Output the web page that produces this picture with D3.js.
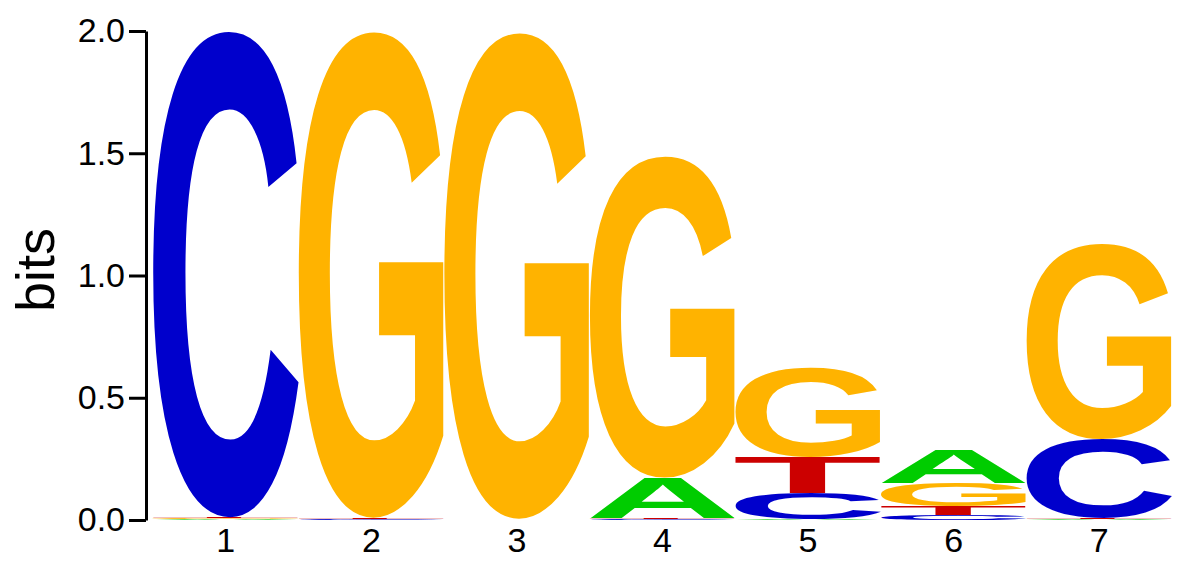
<!DOCTYPE html>
<html>
<head>
<meta charset="utf-8">
<script src="https://cdn.jsdelivr.net/npm/d3@7/dist/d3.min.js"></script>
<style>
    html, body { margin: 0; padding: 0; background: #fff; }
    svg { display: block; }
</style>
</head>
<body>
<svg id="chart" width="1194" height="565"></svg>
<script>
const positions = [1, 2, 3, 4, 5, 6, 7];
const bitsA = [0.003, 0.001, 0.001, 0.165, 0.004, 0.137, 0.004];
const bitsC = [1.990, 0.004, 0.002, 0.004, 0.106, 0.022, 0.323];
const bitsG = [0.004, 1.990, 1.990, 1.316, 0.368, 0.094, 0.800];
const bitsT = [0.004, 0.004, 0.002, 0.004, 0.147, 0.034, 0.004];
const yTicks = [0, 0.5, 1, 1.5, 2];

const letterColors = { A: '#00cc00', C: '#0000cc', G: '#ffb300', T: '#cc0000' };
const letterFont = "bold 200px 'Liberation Sans', Arial, sans-serif";

const svg = d3.select('#chart');

const x = d3.scaleBand()
    .domain(positions)
    .range([153, 1172])
    .paddingInner(0)
    .paddingOuter(0);

const y = d3.scaleLinear()
    .domain([0, 2])
    .range([520, 31]);

// tight glyph boxes, so each letter can be stretched to fill its slot
const ctx = document.createElement('canvas').getContext('2d');
ctx.font = letterFont;
const glyphBox = {};
Object.keys(letterColors).forEach(function (l) {
    const m = ctx.measureText(l);
    glyphBox[l] = {
        left: m.actualBoundingBoxLeft,
        w: m.actualBoundingBoxLeft + m.actualBoundingBoxRight,
        ascent: m.actualBoundingBoxAscent,
        h: m.actualBoundingBoxAscent + m.actualBoundingBoxDescent
    };
});

function stackColumn(i) {
    const col = [
        { letter: 'A', bits: bitsA[i] },
        { letter: 'C', bits: bitsC[i] },
        { letter: 'G', bits: bitsG[i] },
        { letter: 'T', bits: bitsT[i] }
    ].sort(function (a, b) { return a.bits - b.bits; });

    let base = 0;
    col.forEach(function (d) {
        d.y0 = base;
        d.y1 = base + d.bits;
        d.pos = positions[i];
        base = d.y1;
    });
    return col;
}

const letters = positions.map(function (p, i) { return stackColumn(i); }).flat();

const logo = svg.append('g').attr('class', 'logo');

logo.selectAll('text')
    .data(letters)
    .join('text')
    .attr('fill', function (d) { return letterColors[d.letter]; })
    .style('font', letterFont)
    .attr('x', function (d) { return glyphBox[d.letter].left; })
    .attr('y', function (d) { return glyphBox[d.letter].ascent; })
    .attr('transform', function (d) {
        const b = glyphBox[d.letter],
            w = x.bandwidth(),
            h = y(d.y0) - y(d.y1);
        return 'translate(' + x(d.pos) + ',' + y(d.y1) + ') scale(' + (w / b.w) + ',' + (h / b.h) + ')';
    })
    .text(function (d) { return d.letter; });

// y axis
const yAxis = svg.append('g')
    .attr('transform', 'translate(146,0)')
    .call(d3.axisLeft(y)
        .tickValues(yTicks)
        .tickFormat(d3.format('.1f'))
        .tickSize(17)
        .tickSizeOuter(0)
        .tickPadding(4));

yAxis.select('.domain').attr('stroke', '#000').attr('stroke-width', 3);
yAxis.selectAll('.tick line').attr('stroke', '#000').attr('stroke-width', 3);
yAxis.selectAll('.tick text')
    .attr('fill', '#000')
    .style('font-family', "'Liberation Sans', Arial, sans-serif")
    .style('font-size', '34px');

// x labels, no axis line
const xAxis = svg.append('g')
    .attr('transform', 'translate(0,524)')
    .call(d3.axisBottom(x).tickSize(0).tickPadding(4));

xAxis.select('.domain').remove();
xAxis.selectAll('.tick text')
    .attr('fill', '#000')
    .style('font-family', "'Liberation Sans', Arial, sans-serif")
    .style('font-size', '34px');

svg.append('text')
    .attr('transform', 'translate(54,270) rotate(-90)')
    .attr('text-anchor', 'middle')
    .attr('fill', '#000')
    .style('font-family', "'Liberation Sans', Arial, sans-serif")
    .style('font-size', '54px')
    .text('bits');
</script>
</body>
</html>
